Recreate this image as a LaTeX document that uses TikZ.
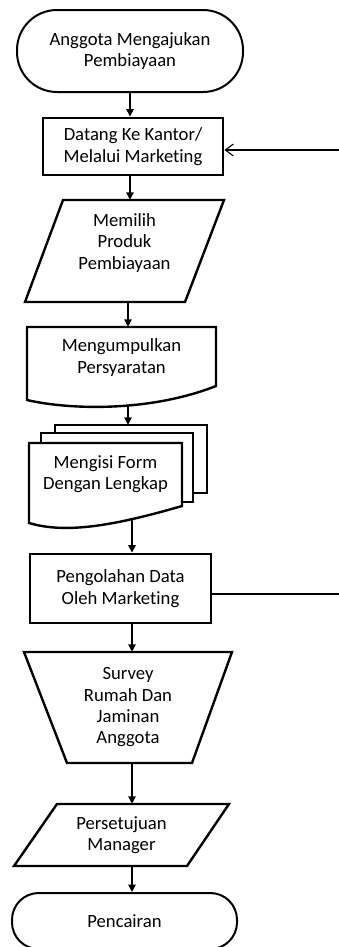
\documentclass[tikz,border=0pt]{standalone}
\usepackage{fontspec}
\setmainfont{Carlito}[Ligatures=NoCommon]
\usetikzlibrary{arrows.meta}
\usetikzlibrary{calc}

\begin{document}
\begin{tikzpicture}[x=0.75pt,y=-0.75pt,line join=miter,
  sz/.style 2 args={minimum width=#1*0.75pt,minimum height=#2*0.75pt},
  txt/.style={inner sep=0pt,align=center,font=\fontsize{14}{16}\selectfont},
  shp/.style={line width=1.8pt},
  arr/.style={line width=1.1pt,-{Triangle[length=5.5pt,width=5.5pt]}}]
\useasboundingbox (0,0) rectangle (339,947);
\node[txt,sz={226}{82},draw,line width=1.5pt,rounded corners=30pt] (mulai) at (130,51) {Anggota Mengajukan\\Pembiayaan};
\node[txt,sz={180}{57},draw,line width=2.2pt] (datang) at (133,146.5) {Datang Ke Kantor/\\Melalui Marketing};
\node[txt,sz={199}{102}] (pilih) at (124.5,251) {};
\draw[shp] (25,302) -- (63,200) -- (224,200) -- (185,302) -- cycle;
\node[txt] (pilih-t) at (124.5,243) {Memilih\\Produk\\Pembiayaan};
\node[txt,sz={189}{61}] (kumpul) at (121.5,357.5) {Mengumpulkan\\Persyaratan};
\draw[shp] (27,400) -- (27,327) -- (216,327) -- (216,386) .. controls (150,412) and (70,410) .. (27,400) -- cycle;
\coordinate (kumpul-b) at (128,405);
\node[sz={178}{101}] (isi) at (118,475.5) {};
\draw[shp] (55,433) -- (55,425) -- (207,425) -- (207,493) -- (193,493);
\draw[shp] (41,443) -- (41,433) -- (193,433) -- (193,502) -- (182,502);
\draw[shp] (29,523) -- (29,443) -- (182,443) -- (182,506) .. controls (100,530) and (60,532) .. (29,523) -- cycle;
\node[txt] (isi-t) at (105.5,474) {Mengisi Form\\Dengan Lengkap};
\coordinate (isi-b) at (132,518);
\node[txt,sz={181}{69},draw,line width=2.2pt] (olah) at (120.5,588.5) {Pengolahan Data\\Oleh Marketing};
\node[txt,sz={208}{111}] (survey) at (128,707.5) {Survey\\Rumah Dan\\Jaminan\\Anggota};
\draw[shp] (24,652) -- (232,652) -- (192,763) -- (67,763) -- cycle;
\node[txt,sz={215}{62}] (setuju) at (121.5,835) {Persetujuan\\Manager};
\draw[shp] (14,866) -- (57,804) -- (229,804) -- (187,866) -- cycle;
\node[txt,sz={225}{56},draw,line width=1.5pt,rounded corners=20pt] (cair) at (124.5,921) {Pencairan};
\draw[arr] (mulai.south) -- (mulai.south |- datang.north);
\draw[arr] (datang.south -| mulai.south) -- (mulai.south |- pilih.north);
\draw[arr] (pilih.south -| kumpul-b) -- (kumpul-b |- kumpul.north);
\draw[arr] (kumpul-b) -- (kumpul-b |- isi.north);
\draw[arr] (isi-b) -- (isi-b |- olah.north);
\draw[arr] (olah.south -| isi-b) -- (isi-b |- survey.north);
\draw[arr] (survey.south -| isi-b) -- (isi-b |- setuju.north);
\draw[arr] (setuju.south -| isi-b) -- (isi-b |- cair.north);
\coordinate (balik1) at (339,150);
\coordinate (balik2) at (339,594);
\draw[line width=0.8pt,-{Straight Barb[length=6pt,width=9pt]}] (balik1) -- (balik1 -| datang.east);
\draw[line width=0.8pt] (olah.east |- balik2) -- (balik2);
\end{tikzpicture}
\end{document}
